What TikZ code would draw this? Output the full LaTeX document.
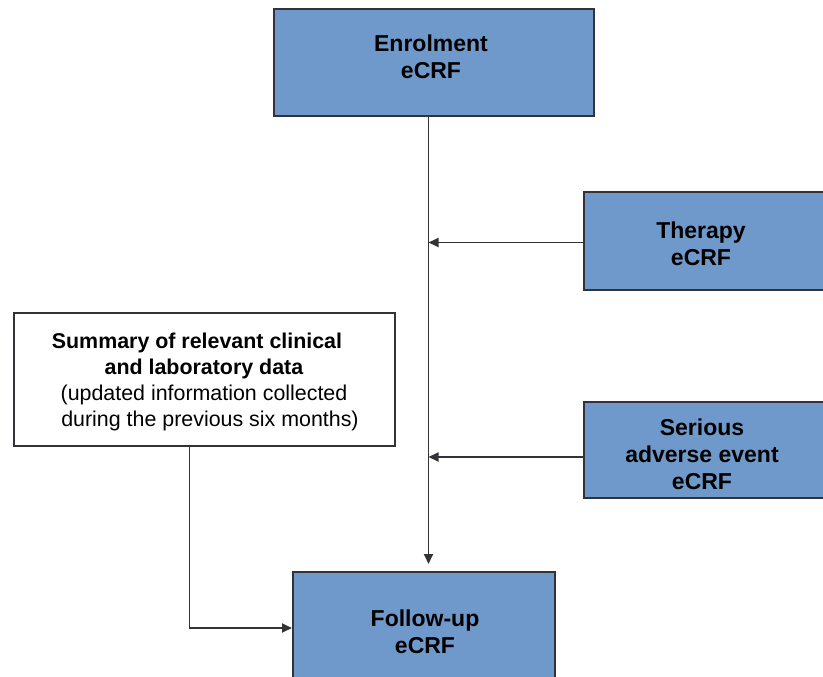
\documentclass[tikz,border=0pt]{standalone}
\usepackage{fontspec}
\setmainfont{Liberation Sans}
\usetikzlibrary{arrows.meta}
\definecolor{boxblue}{RGB}{111,153,202}
\definecolor{edge}{RGB}{50,50,56}
\begin{document}
\begin{tikzpicture}[x=1pt,y=-1pt,
  bluebox/.style={draw=edge, line width=2pt, fill=boxblue, rectangle, inner sep=0pt},
  whitebox/.style={draw=edge, line width=1.6pt, fill=white, rectangle, inner sep=0pt},
  boxtext/.style={align=center, inner sep=0pt, font=\fontsize{23}{27}\selectfont\bfseries},
  notetext/.style={align=center, inner sep=0pt, font=\fontsize{21.4}{26}\selectfont},
  flow/.style={draw=edge, line width=1.8pt, -{Triangle[length=10pt,width=9pt]}}]
\useasboundingbox (0,0) rectangle (823,677);
\clip (0,0) rectangle (823,677);

% boxes
\node[bluebox, minimum width=320pt, minimum height=107pt] (enrol) at (434,62.5) {};
\node[boxtext] (enroltext) at (431,56.5) {Enrolment\\eCRF};

\node[bluebox, minimum width=260pt, minimum height=98pt] (therapy) at (714,241) {};
\node[boxtext] (therapytext) at (701,244) {Therapy\\eCRF};

\node[bluebox, minimum width=260pt, minimum height=96pt] (sae) at (714,450) {};
\node[boxtext] (saetext) at (702,454) {Serious\\adverse event\\eCRF};

\node[whitebox, minimum width=381pt, minimum height=133pt] (summary) at (204.5,379.5) {};
\node[notetext] (summarytext) at (204,382) {%
  \textbf{Summary of relevant clinical}\hspace*{14pt}\\
  \textbf{and laboratory data}\hspace*{26pt}\\
  (updated information collected\\
  \hspace*{12pt}during the previous six months)};

\node[bluebox, minimum width=262pt, minimum height=118pt] (follow) at (424,631) {};
\node[boxtext] (followtext) at (425,631.5) {Follow-up\\eCRF};

% connectors
\coordinate (trunk) at (428.5,0);
\coordinate (side) at (189.5,0);
\draw[flow, shorten >=7pt] (enrol.south -| trunk) -- (follow.north -| trunk);
\draw[flow] ([yshift=-1.5pt]therapy.west) -- ([yshift=-1.5pt]therapy.west -| trunk);
\draw[flow] ([yshift=-7pt]sae.west) -- ([yshift=-7pt]sae.west -| trunk);
\draw[flow] (summary.south -| side) |- ([yshift=3pt]follow.west);
\end{tikzpicture}
\end{document}
